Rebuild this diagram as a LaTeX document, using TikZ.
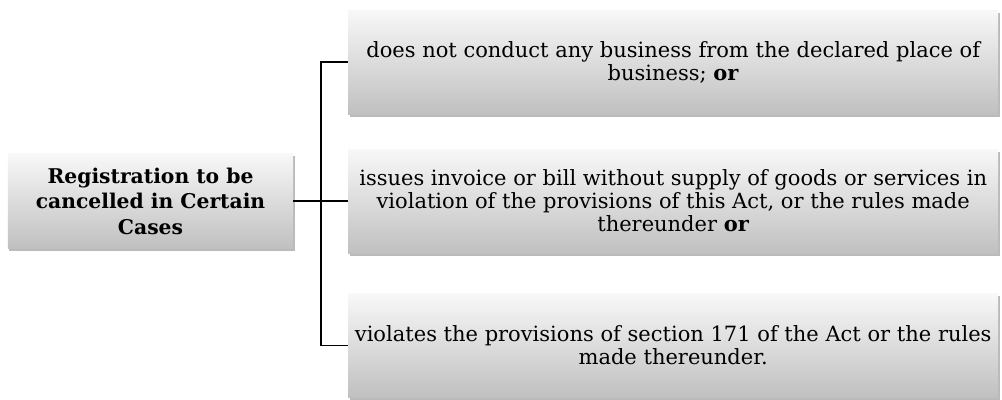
\documentclass[tikz,border=0pt]{standalone}
\usepackage{fontspec}
\setmainfont{DejaVu Serif}
\usetikzlibrary{shadows}
\definecolor{boxtop}{RGB}{248,248,248}
\definecolor{boxbot}{RGB}{192,192,192}
\tikzset{
  gbox/.style={draw=none, shading=axis, top color=boxtop, bottom color=boxbot,
    drop shadow={shadow xshift=1.5bp, shadow yshift=-2.5bp, opacity=0.45, fill=black!60},
    align=center, inner sep=0pt},
  rbox/.style={gbox, minimum width=650bp, minimum height=104bp, anchor=west,
    font=\fontsize{21bp}{23bp}\selectfont},
  lbox/.style={gbox, minimum width=285bp, minimum height=95bp,
    font=\fontsize{20.3bp}{25.5bp}\selectfont\bfseries},
  conn/.style={draw=black, line width=1.8bp},
}
\begin{document}
\begin{tikzpicture}[x=1bp,y=-1bp]
\useasboundingbox (0,0) rectangle (1002,399);
\node[lbox] (L) at (150.5,201) {Registration to be\\cancelled in Certain\\Cases};
\node[rbox] (B1) at (348,62) {does not conduct any business from the declared place of\\business; \textbf{or}};
\node[rbox] (B2) at (348,201) {issues invoice or bill without supply of goods or services in\\violation of the provisions of this Act, or the rules made\\thereunder \textbf{or}};
\node[rbox] (B3) at (348,345.5) {violates the provisions of section 171 of the Act or the rules\\made thereunder.};
\coordinate (j) at (321,201);
\draw[conn, line width=2.4bp] (L.east) -- (B2.west);
\draw[conn] (B1.west) -- (B1.west -| j) -- (B3.west -| j) -- (B3.west);
\end{tikzpicture}
\end{document}
